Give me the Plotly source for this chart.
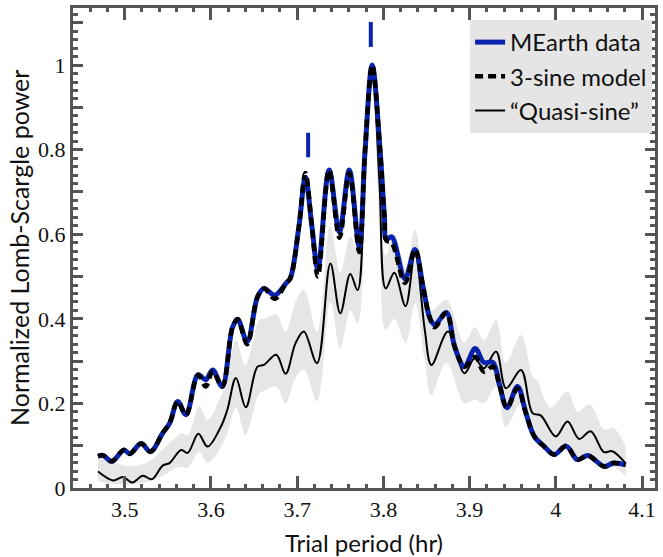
import plotly.graph_objects as go

# ---------------- data ----------------
period_data = [3.469, 3.475, 3.485, 3.499, 3.506, 3.519, 3.530, 3.544, 3.552, 3.5615,
               3.571, 3.585, 3.594, 3.602, 3.613, 3.625, 3.631, 3.642, 3.654, 3.6615,
               3.674, 3.687, 3.692, 3.702, 3.7095, 3.717, 3.724, 3.737, 3.749, 3.7604,
               3.772, 3.7788, 3.787, 3.7961, 3.8012, 3.8035, 3.8096, 3.825, 3.8366, 3.846,
               3.854, 3.8596, 3.873, 3.8827, 3.894, 3.9065, 3.9165, 3.927, 3.9346, 3.9434,
               3.9555, 3.9653, 3.975, 3.9866, 3.998, 4.012, 4.025, 4.037, 4.056, 4.067, 4.081]
power_data = [0.075, 0.077, 0.063, 0.090, 0.081, 0.105, 0.086, 0.130, 0.153, 0.2045,
              0.173, 0.2675, 0.256, 0.279, 0.240, 0.380, 0.399, 0.346, 0.452, 0.472,
              0.456, 0.484, 0.496, 0.618, 0.735, 0.620, 0.518, 0.752, 0.606, 0.752,
              0.570, 0.800, 1.000, 0.800, 0.640, 0.588, 0.594, 0.495, 0.564, 0.476,
              0.401, 0.386, 0.4146, 0.334, 0.287, 0.330, 0.297, 0.297, 0.244, 0.190,
              0.240, 0.177, 0.122, 0.098, 0.079, 0.099, 0.067, 0.077, 0.051, 0.059, 0.055]

period_model = period_data
power_model = [0.075, 0.077, 0.063, 0.090, 0.081, 0.105, 0.086, 0.130, 0.153, 0.2045,
               0.173, 0.2675, 0.240, 0.276, 0.240, 0.380, 0.399, 0.340, 0.452, 0.472,
               0.447, 0.484, 0.496, 0.618, 0.745, 0.620, 0.500, 0.752, 0.592, 0.745,
               0.558, 0.800, 1.000, 0.800, 0.640, 0.585, 0.580, 0.485, 0.564, 0.476,
               0.401, 0.380, 0.4146, 0.334, 0.287, 0.310, 0.275, 0.287, 0.244, 0.190,
               0.235, 0.177, 0.122, 0.098, 0.079, 0.099, 0.067, 0.077, 0.051, 0.059, 0.055]

period_qs = [3.469, 3.4865, 3.498, 3.5085, 3.521, 3.5315, 3.544, 3.552, 3.5654, 3.573,
             3.5854, 3.596, 3.6115, 3.619, 3.629, 3.6404, 3.654, 3.6615, 3.6757, 3.6866,
             3.698, 3.7077, 3.723, 3.7385, 3.750, 3.7616, 3.770, 3.7788, 3.787, 3.7955,
             3.8027, 3.8127, 3.8257, 3.8366, 3.848, 3.8557, 3.875, 3.894, 3.9058, 3.9165,
             3.9307, 3.9423, 3.9596, 3.973, 3.9827, 4.000, 4.0135, 4.027, 4.0404, 4.0557,
             4.0654, 4.081]
power_qs = [0.039, 0.018, 0.026, 0.013, 0.029, 0.021, 0.053, 0.059, 0.090, 0.083,
            0.128, 0.098, 0.145, 0.185, 0.260, 0.191, 0.287, 0.291, 0.315, 0.270,
            0.342, 0.370, 0.295, 0.531, 0.413, 0.506, 0.468, 0.780, 1.000, 0.720,
            0.472, 0.509, 0.430, 0.555, 0.374, 0.291, 0.370, 0.2715, 0.307, 0.283,
            0.3225, 0.236, 0.279, 0.177, 0.171, 0.122, 0.157, 0.116, 0.134, 0.085,
            0.087, 0.058]

period_band = [3.469, 3.486, 3.502, 3.525, 3.540, 3.556, 3.5654, 3.573, 3.5865, 3.596,
               3.6096, 3.619, 3.629, 3.640, 3.656, 3.6615, 3.6757, 3.6866, 3.698, 3.7077,
               3.723, 3.7385, 3.750, 3.7616, 3.770, 3.779, 3.787, 3.796, 3.8027, 3.8127,
               3.8257, 3.8366, 3.848, 3.8557, 3.873, 3.894, 3.906, 3.9165, 3.9307, 3.942,
               3.9596, 3.973, 3.979, 3.994, 4.0135, 4.025, 4.040, 4.056, 4.067, 4.081]
band_hi = [0.070, 0.062, 0.052, 0.060, 0.083, 0.114, 0.130, 0.125, 0.193, 0.161,
           0.208, 0.260, 0.350, 0.291, 0.397, 0.400, 0.410, 0.370, 0.440, 0.470,
           0.370, 0.620, 0.510, 0.594, 0.560, 0.850, 1.000, 0.800, 0.550, 0.600,
           0.520, 0.610, 0.470, 0.420, 0.445, 0.343, 0.380, 0.350, 0.397, 0.296,
           0.362, 0.265, 0.252, 0.190, 0.228, 0.181, 0.197, 0.138, 0.142, 0.098]
band_lo = [0.016, 0.010, 0.008, 0.014, 0.024, 0.043, 0.050, 0.048, 0.085, 0.059,
           0.090, 0.130, 0.190, 0.126, 0.224, 0.230, 0.240, 0.200, 0.260, 0.280,
           0.205, 0.440, 0.330, 0.420, 0.390, 0.700, 0.970, 0.600, 0.374, 0.400,
           0.343, 0.437, 0.300, 0.220, 0.296, 0.200, 0.209, 0.200, 0.240, 0.145,
           0.200, 0.120, 0.114, 0.083, 0.095, 0.075, 0.080, 0.045, 0.050, 0.027]

marker_period = [3.7127, 3.7854]
marker_lo = [0.782, 1.043]
marker_hi = [0.840, 1.102]

x_tickvals = [3.5, 3.6, 3.7, 3.8, 3.9, 4.0, 4.1]
x_ticktext = ["3.5", "3.6", "3.7", "3.8", "3.9", "4", "4.1"]
y_tickvals = [0, 0.1, 0.2, 0.3, 0.4, 0.5, 0.6, 0.7, 0.8, 0.9, 1.0, 1.1]
y_ticktext = ["0", "", "0.2", "", "0.4", "", "0.6", "", "0.8", "", "1", ""]

# ---------------- style ----------------
BLUE = "#0a23ad"
AXC = "#555555"
SANS = "Lato, 'Open Sans', sans-serif"
SERIF = "'Liberation Serif', 'DejaVu Serif', serif"

fig = go.Figure()

# gray band
fig.add_trace(go.Scatter(x=period_band, y=band_lo, mode="lines",
                         line=dict(width=0, shape="spline", color="#e6e6e6"),
                         showlegend=False, hoverinfo="skip"))
fig.add_trace(go.Scatter(x=period_band, y=band_hi, mode="lines", fill="tonexty",
                         fillcolor="#e6e6e6",
                         line=dict(width=0, shape="spline", color="#e6e6e6"),
                         showlegend=False, hoverinfo="skip"))

# quasi-sine (thin)
fig.add_trace(go.Scatter(x=period_qs, y=power_qs, mode="lines", name="“Quasi-sine”",
                         line=dict(color="black", width=2, shape="spline"),
                         legendrank=3))
# MEarth data
fig.add_trace(go.Scatter(x=period_data, y=power_data, mode="lines", name="MEarth data",
                         line=dict(color=BLUE, width=5, shape="spline"),
                         legendrank=1))
# 3-sine model
fig.add_trace(go.Scatter(x=period_model, y=power_model, mode="lines", name="3-sine model",
                         line=dict(color="black", width=4.5, shape="spline", dash="8px,5px"),
                         legendrank=2))

# blue markers
for i in range(len(marker_period)):
    fig.add_trace(go.Scatter(x=[marker_period[i], marker_period[i]],
                             y=[marker_lo[i], marker_hi[i]], mode="lines",
                             line=dict(color=BLUE, width=4), showlegend=False,
                             hoverinfo="skip"))

axis_common = dict(showline=True, linewidth=3, linecolor=AXC, mirror="ticks",
                   ticks="inside", tickwidth=2.5, tickcolor=AXC, showgrid=False,
                   zeroline=False, tickfont=dict(family=SERIF, size=22, color="#111"))

fig.update_xaxes(range=[3.44, 4.115], tickmode="array", tickvals=x_tickvals,
                 ticktext=x_ticktext, ticklen=12,
                 minor=dict(tickmode="linear", tick0=3.5, dtick=0.02, ticks="inside",
                            ticklen=4, tickwidth=2.5, tickcolor=AXC, showgrid=False),
                 **axis_common)
fig.update_yaxes(range=[0, 1.135], tickmode="array", tickvals=y_tickvals,
                 ticktext=y_ticktext, ticklen=10,
                 minor=dict(tickmode="linear", tick0=0, dtick=0.02, ticks="inside",
                            ticklen=5, tickwidth=2.5, tickcolor=AXC, showgrid=False),
                 **axis_common)

fig.add_annotation(text="Trial period (hr)", xref="paper", yref="paper", x=0.5, y=0,
                   yshift=-54, showarrow=False, xanchor="center", yanchor="middle",
                   font=dict(family=SANS, size=24, color="#111"))
fig.add_annotation(text="Normalized Lomb-Scargle power", xref="paper", yref="paper",
                   x=0, y=0.5, xshift=-54, textangle=-90, showarrow=False,
                   xanchor="center", yanchor="middle",
                   font=dict(family=SANS, size=25, color="#111"))

fig.update_layout(
    width=663, height=557,
    margin=dict(l=73, r=5, t=8, b=69),
    plot_bgcolor="white", paper_bgcolor="white",
    legend=dict(x=0.995, y=0.975, xanchor="right", yanchor="top",
                bgcolor="#e5e5e5", borderwidth=0, traceorder="normal",
                font=dict(family=SANS, size=24, color="#111"),
                itemwidth=30, tracegroupgap=0),
)

fig.write_html("out.html")
